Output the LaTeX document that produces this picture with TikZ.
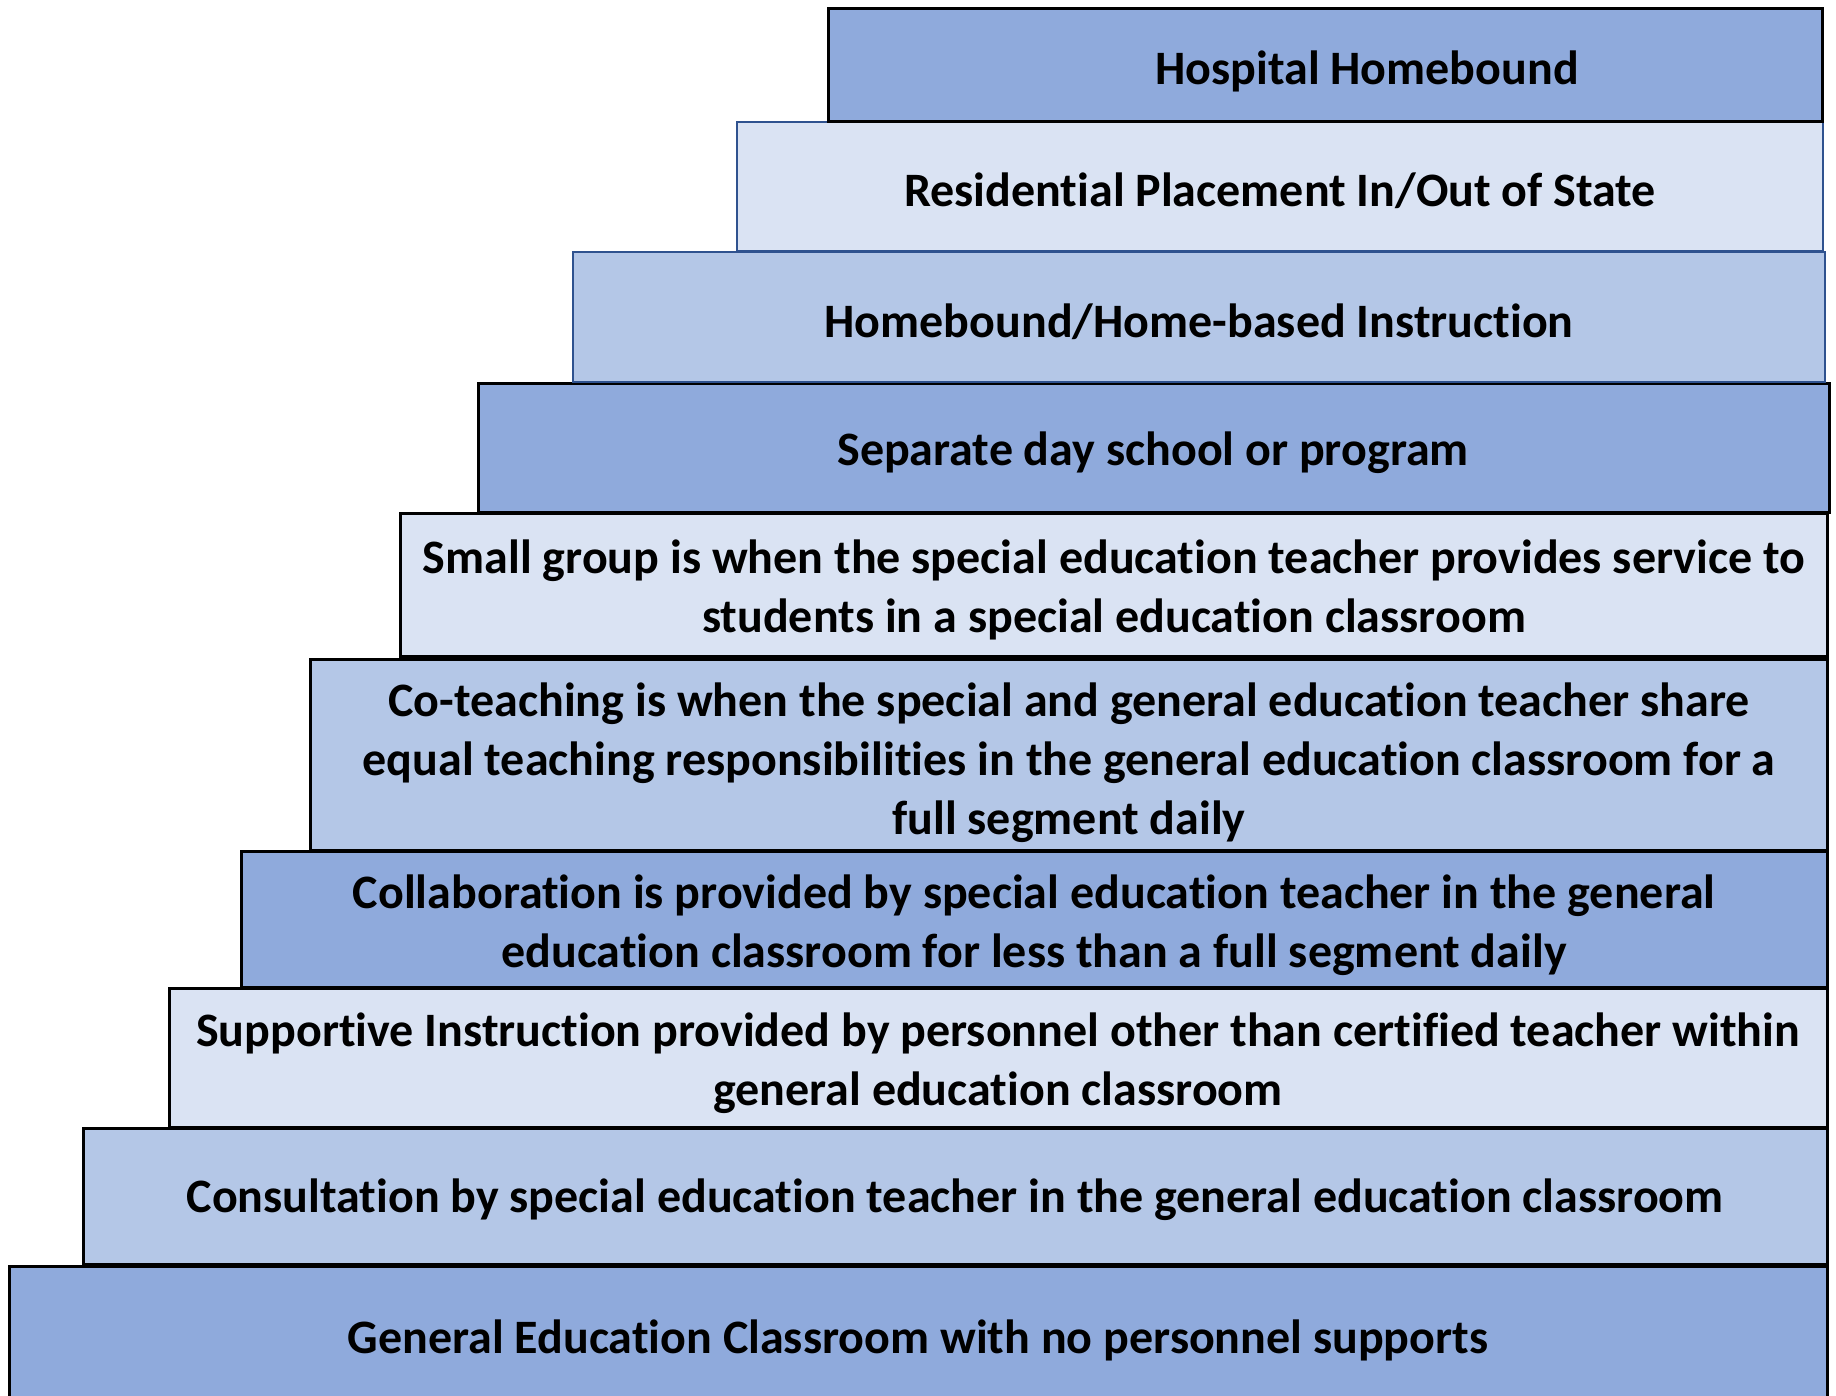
\documentclass[tikz,border=0pt]{standalone}
\usepackage{fontspec}
\setmainfont[Ligatures=CommonOff]{Carlito}
\usepackage{xcolor}

\definecolor{tierdark}{HTML}{8FAADC}
\definecolor{tiermid}{HTML}{B4C7E7}
\definecolor{tierlight}{HTML}{DAE3F3}
\definecolor{tierline}{HTML}{2F528F}

\begin{document}
\begin{tikzpicture}[x=0.5pt, y=-0.5pt,
    tier/.style={draw=black, line width=1.5pt},
    bluetier/.style={draw=tierline, line width=1.1pt},
    tiertext/.style={align=center, inner sep=0pt,
        font=\fontsize{24}{29.6}\selectfont\bfseries}]
    \useasboundingbox (0,0) rectangle (1836,1396);
    \clip (0,0) rectangle (1836,1396);

    % General education (bottom step, runs off the page)
    \draw[tier, fill=tierdark] (9,1266) rectangle (1827,1420);
    \node[tiertext] (general) at (918,1340) {General Education Classroom with no personnel supports};

    % Consultation
    \draw[tier, fill=tiermid] (83,1128) rectangle (1827,1264);
    \node[tiertext] (consult) at (955,1200) {Consultation by special education teacher in the general education classroom};

    % Supportive instruction
    \draw[tier, fill=tierlight] (169,988) rectangle (1827,1127);
    \node[tiertext] (support) at (998,1063) {Supportive Instruction provided by personnel other than certified teacher within\\general education classroom};

    % Collaboration
    \draw[tier, fill=tierdark] (241,851) rectangle (1827,987);
    \node[tiertext] (collab) at (1034,925) {Collaboration is provided by special education teacher in the general\\education classroom for less than a full segment daily};

    % Co-teaching
    \draw[tier, fill=tiermid] (310,659) rectangle (1827,850);
    \node[tiertext] (coteach) at (1069,763) {Co-teaching is when the special and general education teacher share\\equal teaching responsibilities in the general education classroom for a\\full segment daily};

    % Small group
    \draw[tier, fill=tierlight] (400,513) rectangle (1827,656);
    \node[tiertext] (smallgroup) at (1114,590) {Small group is when the special education teacher provides service to\\students in a special education classroom};

    % Separate day school
    \draw[tier, fill=tierdark] (478,383) rectangle (1829,512);
    \node[tiertext] (separate) at (1153,453) {Separate day school or program};

    % Homebound / home-based
    \draw[bluetier, fill=tiermid] (573,252) rectangle (1825,382);
    \node[tiertext] (homebased) at (1199,322) {Homebound/Home-based Instruction};

    % Residential placement
    \draw[bluetier, fill=tierlight] (737,122) rectangle (1823,251);
    \node[tiertext] (residential) at (1280,191) {Residential Placement In/Out of State};

    % Hospital homebound (top step)
    \draw[tier, fill=tierdark] (828,9) rectangle (1822,122);
    \node[tiertext] (hospital) at (1367,71) {Hospital Homebound};
\end{tikzpicture}
\end{document}
